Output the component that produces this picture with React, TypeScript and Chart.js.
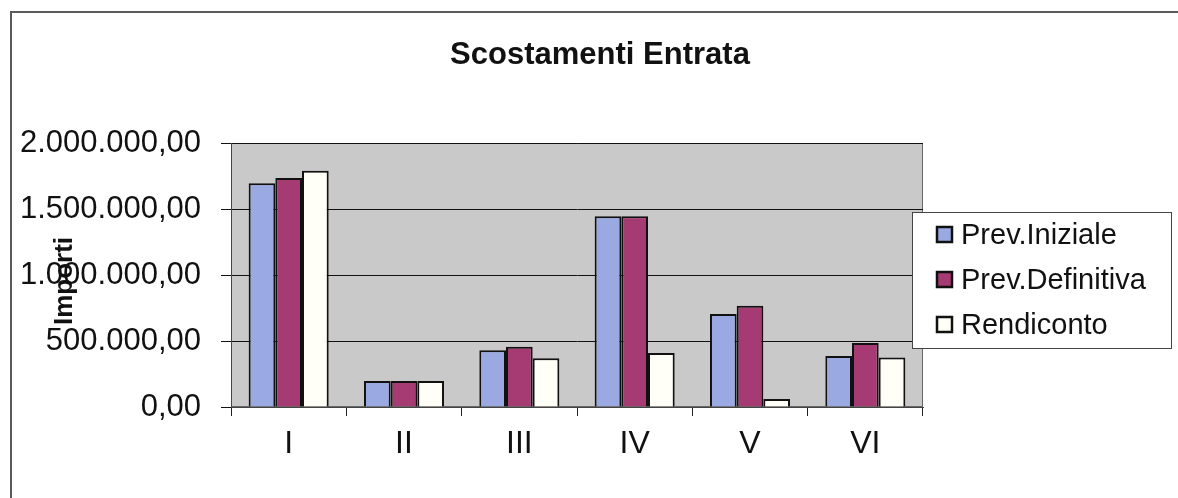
import React, { useEffect, useRef } from "react";
import { Chart, registerables } from "chart.js";

Chart.register(...registerables);

const categories = ["I", "II", "III", "IV", "V", "VI"];
const prevIniziale = [1695000, 197000, 430000, 1445000, 704000, 387000];
const prevDefinitiva = [1734000, 197000, 456000, 1445000, 767000, 484000];
const rendiconto = [1790000, 197000, 370000, 410000, 61000, 375000];
const seriesNames = ["Prev.Iniziale", "Prev.Definitiva", "Rendiconto"];
const chartTitle = "Scostamenti Entrata";
const yTitle = "Importi";

const FONT = "'Liberation Sans', Arial, sans-serif";
const BLUE = "#9aa9e2";
const PURPLE = "#a63a72";
const WHITE = "#fffff8";

function fmt(v: number): string {
  const s = Math.round(v).toString();
  const parts: string[] = [];
  for (let i = s.length; i > 0; i -= 3) parts.unshift(s.slice(Math.max(0, i - 3), i));
  return parts.join(".") + ",00";
}

const decorPlugin = {
  id: "decor",
  beforeDraw(chart: any) {
    const { ctx, chartArea } = chart;
    ctx.save();
    ctx.fillStyle = "#ffffff";
    ctx.fillRect(0, 0, chart.width, chart.height);
    // outer frame
    ctx.strokeStyle = "#5a5a5a";
    ctx.lineWidth = 2;
    ctx.beginPath();
    ctx.moveTo(chart.width, 12);
    ctx.lineTo(11, 12);
    ctx.lineTo(11, chart.height);
    ctx.stroke();
    // plot area
    ctx.fillStyle = "#c9c9c9";
    ctx.fillRect(chartArea.left, chartArea.top, chartArea.right - chartArea.left, chartArea.bottom - chartArea.top);
    ctx.strokeStyle = "#666666";
    ctx.lineWidth = 1;
    ctx.strokeRect(chartArea.left + 0.5, chartArea.top + 0.5, chartArea.right - chartArea.left - 1, chartArea.bottom - chartArea.top - 1);
    ctx.restore();
  },
  afterDraw(chart: any) {
    const { ctx, chartArea } = chart;
    ctx.save();
    // title
    ctx.fillStyle = "#111";
    ctx.font = `bold 31px ${FONT}`;
    ctx.textAlign = "center";
    ctx.textBaseline = "middle";
    ctx.fillText(chartTitle, 600, 55);
    // y title
    ctx.save();
    ctx.translate(65, (chartArea.top + chartArea.bottom) / 2 + 6);
    ctx.rotate(-Math.PI / 2);
    ctx.font = `bold 26px ${FONT}`;
    ctx.fillText(yTitle, 0, 0);
    ctx.restore();
    // legend
    const lx = 912, ly = 212, lw = 259, lh = 136;
    ctx.fillStyle = "#ffffff";
    ctx.fillRect(lx, ly, lw, lh);
    ctx.strokeStyle = "#444";
    ctx.lineWidth = 1;
    ctx.strokeRect(lx + 0.5, ly + 0.5, lw, lh);
    const fills = chart.data.datasets.map((d: any) => d.backgroundColor);
    chart.data.datasets.forEach((d: any, i: number) => {
      const cy = 235 + i * 45;
      ctx.fillStyle = fills[i];
      ctx.fillRect(937, cy - 8, 15, 15);
      ctx.strokeStyle = "#111";
      ctx.lineWidth = 2.5;
      ctx.strokeRect(937, cy - 8, 15, 15);
      ctx.fillStyle = "#111";
      ctx.font = `29px ${FONT}`;
      ctx.textAlign = "left";
      ctx.textBaseline = "middle";
      ctx.fillText(d.label, 961, cy + 1);
    });
    ctx.restore();
  },
};

export default function App() {
  const ref = useRef<HTMLCanvasElement | null>(null);
  useEffect(() => {
    document.body.style.margin = "0";
    if (!ref.current) return;
    const ds = [prevIniziale, prevDefinitiva, rendiconto];
    const colors = [BLUE, PURPLE, WHITE];
    const chart = new Chart(ref.current, {
      type: "bar",
      data: {
        labels: categories,
        datasets: ds.map((data, i) => ({
          label: seriesNames[i],
          data,
          backgroundColor: colors[i],
          borderColor: "#111",
          borderWidth: 2,
          categoryPercentage: 0.694,
          barPercentage: 1.0,
        })),
      },
      options: {
        animation: false,
        responsive: false,
        maintainAspectRatio: false,
        layout: { padding: { top: 143, right: 255, bottom: 0, left: 0 } },
        plugins: {
          legend: { display: false },
          title: { display: false },
          tooltip: { enabled: false },
        },
        scales: {
          x: {
            afterFit: (s: any) => { s.height = 91; },
            grid: { drawOnChartArea: false, color: "#222", tickLength: 9, offset: true },
            border: { color: "#444", width: 1 },
            ticks: { color: "#111", font: { family: FONT, size: 32 }, padding: 9 },
          },
          y: {
            min: 0,
            max: 2000000,
            afterFit: (s: any) => { s.width = 231; },
            grid: { color: "#111", lineWidth: 1, tickLength: 10 },
            border: { color: "#444", width: 1 },
            ticks: {
              stepSize: 500000,
              color: "#111",
              font: { family: FONT, size: 31 },
              padding: 20,
              callback: (v: any) => fmt(Number(v)),
            },
          },
        },
      },
      plugins: [decorPlugin],
    });
    return () => chart.destroy();
  }, []);
  return (
    <div style={{ width: 1178, height: 498 }}>
      <canvas ref={ref} width={1178} height={498} style={{ display: "block", width: 1178, height: 498 }} />
    </div>
  );
}
